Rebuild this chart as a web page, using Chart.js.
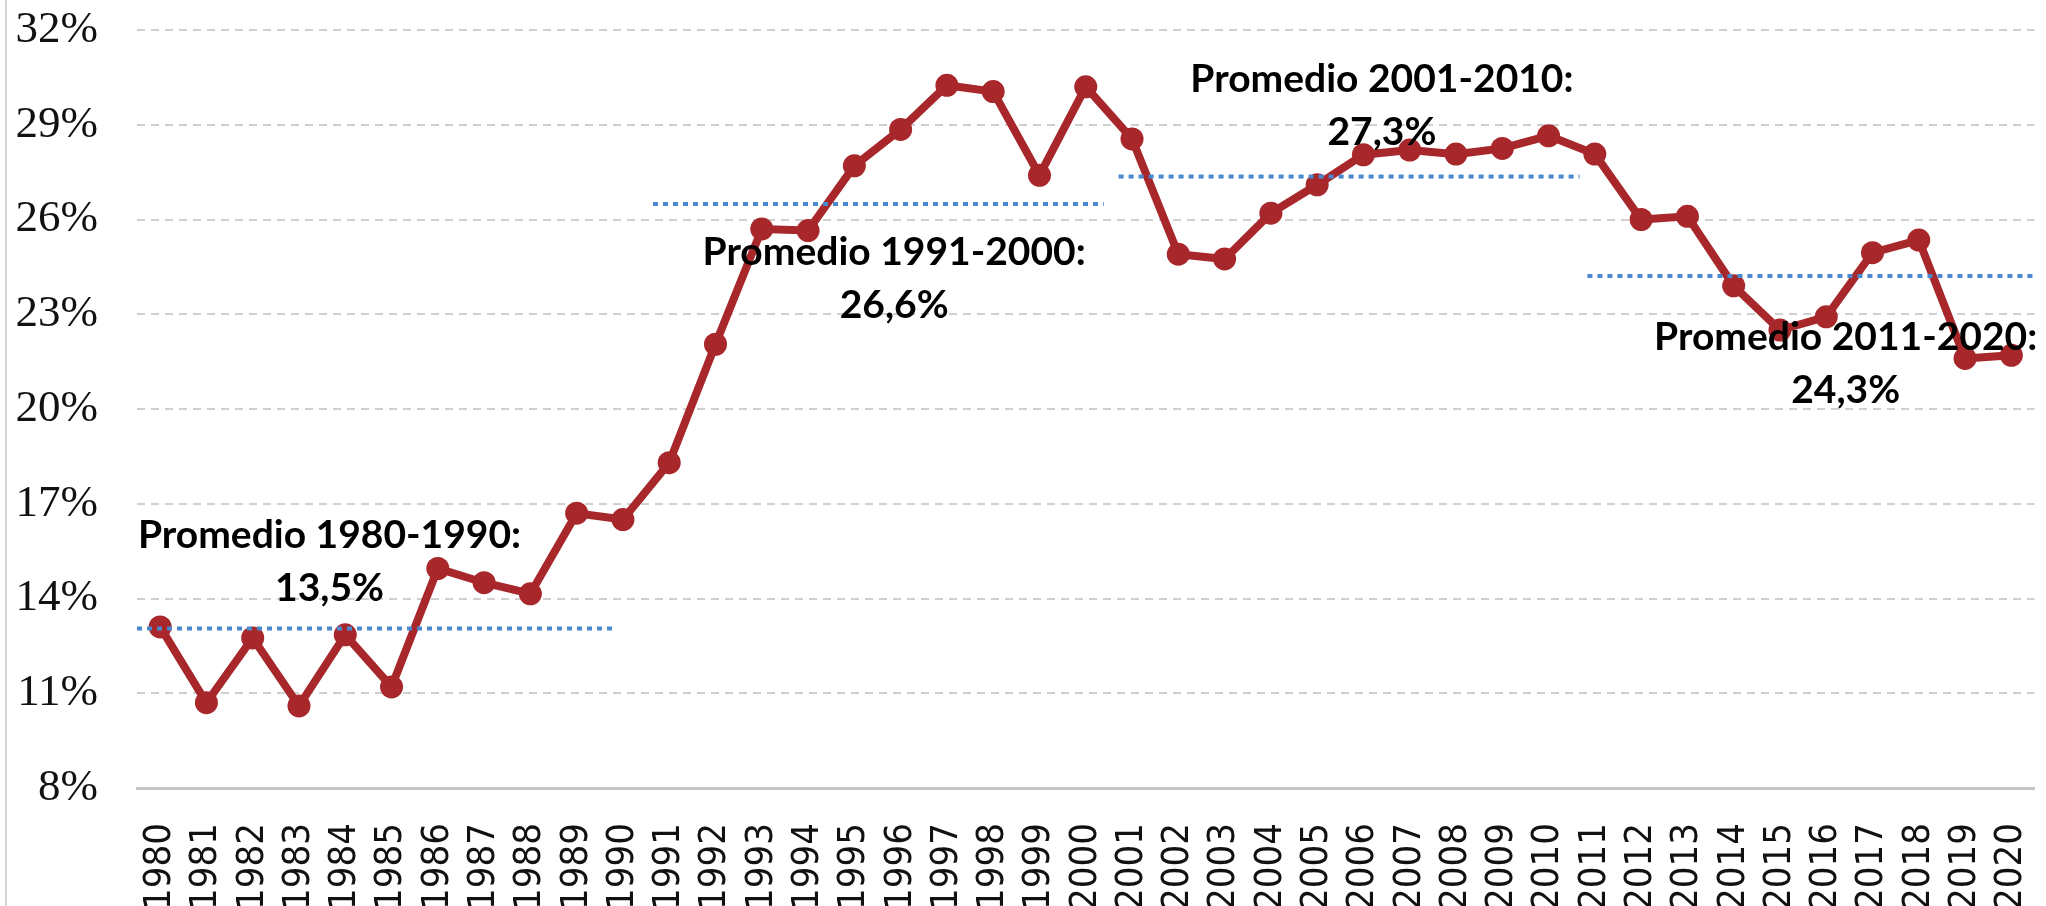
<!DOCTYPE html>
<html>
<head>
<meta charset="utf-8">
<script src="https://cdn.jsdelivr.net/npm/chart.js@4.4.1/dist/chart.umd.min.js"></script>
<style>
  html, body { margin: 0; padding: 0; background: #fff; }
  #wrap { position: relative; width: 2046px; height: 906px; }
  #edge { position: absolute; left: 5px; top: 0; width: 2px; height: 906px; background: #d6d6d6; }
</style>
</head>
<body>
<div id="wrap">
  <canvas id="chart" width="2046" height="906"></canvas>
  <div id="edge"></div>
</div>
<script>
// years on the x axis
const years = ['1980', '1981', '1982', '1983', '1984', '1985', '1986', '1987', '1988', '1989',
  '1990', '1991', '1992', '1993', '1994', '1995', '1996', '1997', '1998', '1999',
  '2000', '2001', '2002', '2003', '2004', '2005', '2006', '2007', '2008', '2009',
  '2010', '2011', '2012', '2013', '2014', '2015', '2016', '2017', '2018', '2019', '2020'];

// yearly values in %
const values = [13.1, 10.7, 12.75, 10.6, 12.85, 11.2, 14.95, 14.5, 14.15, 16.7,
  16.5, 18.3, 22.05, 25.7, 25.65, 27.7, 28.85, 30.25, 30.05, 27.4,
  30.2, 28.55, 24.9, 24.75, 26.2, 27.1, 28.05, 28.2, 28.07, 28.25,
  28.65, 28.07, 26.0, 26.1, 23.9, 22.5, 22.92, 24.95, 25.35, 21.6, 21.7];

// period averages (dotted lines)
const avgTitles = ['Promedio 1980-1990:', 'Promedio 1991-2000:', 'Promedio 2001-2010:', 'Promedio 2011-2020:'];
const avgTexts = ['13,5%', '26,6%', '27,3%', '24,3%'];
const avgLevel = [13.05, 26.49, 27.36, 24.21];
const avgFrom = [1979.5, 1990.65, 2000.71, 2010.84];
const avgTo = [1989.85, 2000.39, 2010.67, 2020.5];

// y ticks
const yMin = 8, yMax = 32, yStep = 3;

// where the text of each average sits (in axis units)
const notePos = [
  { x: 1983.66, y: 16.0 },
  { x: 1995.86, y: 24.97 },
  { x: 2006.4, y: 30.42 },
  { x: 2016.42, y: 22.28 }
];

const ctx = document.getElementById('chart');

const avgSets = [];
for (let i = 0; i < avgLevel.length; i++) {
  avgSets.push({
    label: avgTitles[i],
    xAxisID: 'x2',
    data: [{ x: avgFrom[i], y: avgLevel[i] }, { x: avgTo[i], y: avgLevel[i] }],
    borderColor: '#4a88cf',
    borderWidth: 4,
    borderDash: [5, 5],
    pointRadius: 0,
    fill: false,
    order: 1
  });
}

// text for the averages, drawn on top of everything
const notesPlugin = {
  id: 'notes',
  afterDatasetsDraw(chart) {
    const c = chart.ctx;
    const xs = chart.scales.x2;
    const ys = chart.scales.y;
    c.save();
    c.font = 'bold 39px Lato';
    c.fillStyle = '#000';
    c.textAlign = 'center';
    c.textBaseline = 'middle';
    for (let i = 0; i < avgTitles.length; i++) {
      const px = xs.getPixelForValue(notePos[i].x);
      const py = ys.getPixelForValue(notePos[i].y);
      c.fillText(avgTitles[i], px, py);
      c.fillText(avgTexts[i], px, py + 53);
    }
    c.restore();
  }
};

new Chart(ctx, {
  type: 'line',
  data: {
    labels: years,
    datasets: [{
      label: 'Serie',
      data: values,
      xAxisID: 'x',
      borderColor: '#a8272a',
      backgroundColor: '#a8272a',
      borderWidth: 8,
      pointRadius: 11.5,
      pointBackgroundColor: '#a8272a',
      pointBorderWidth: 0,
      tension: 0,
      order: 2
    }].concat(avgSets)
  },
  options: {
    responsive: false,
    animation: false,
    layout: { padding: { top: 30, right: 6, left: 0, bottom: 0 } },
    plugins: {
      legend: { display: false },
      tooltip: { enabled: false }
    },
    scales: {
      x: {
        type: 'category',
        offset: true,
        grid: { display: false },
        border: { display: true, color: '#c6c6c6', width: 3 },
        ticks: {
          color: '#111',
          font: { family: 'DejaVu Sans Condensed, DejaVu Sans', size: 38 },
          minRotation: 90,
          maxRotation: 90,
          padding: 27,
          autoSkip: false
        },
        afterFit(scale) {
          scale.height = 118;
          scale.paddingLeft = 0;
          scale.paddingRight = 0;
        }
      },
      x2: {
        type: 'linear',
        display: false,
        min: 1979.5,
        max: 2020.5
      },
      y: {
        min: yMin,
        max: yMax,
        grid: { color: '#d0d0d0', lineWidth: 2, drawTicks: false },
        border: { display: false, dash: [8, 6] },
        ticks: {
          stepSize: yStep,
          color: '#111',
          padding: 39,
          font: { family: 'Liberation Serif', size: 45 },
          callback: v => v + '%'
        },
        afterFit(scale) {
          scale.width = 137;
          scale.paddingTop = 0;
          scale.paddingBottom = 0;
        }
      }
    }
  },
  plugins: [notesPlugin]
});
</script>
</body>
</html>
